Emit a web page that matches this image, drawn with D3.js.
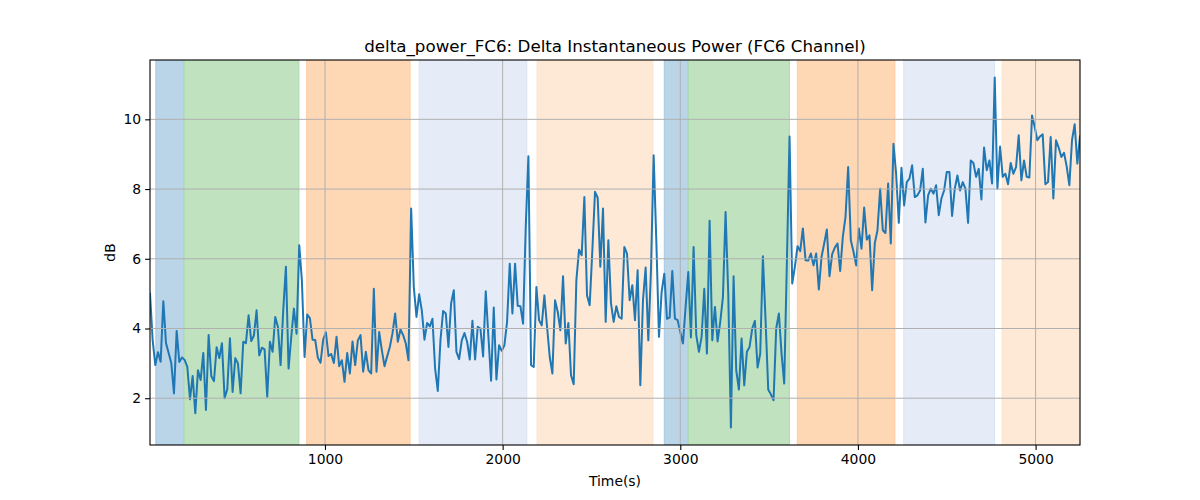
<!DOCTYPE html>
<html>
<head>
<meta charset="utf-8">
<script src="https://cdn.jsdelivr.net/npm/d3@7"></script>
<style>
  body { margin: 0; background: #fff; }
  svg { display: block; font-family: "DejaVu Sans", sans-serif; }
</style>
</head>
<body>
<svg id="chart" width="1200" height="500"></svg>
<script>
const titleText = "delta_power_FC6: Delta Instantaneous Power (FC6 Channel)";
const xLabel = "Time(s)";
const yLabel = "dB";
const timeStart = 15;
const timeStep = 15;
const xTicks = [1000, 2000, 3000, 4000, 5000];
const yTicks = [2, 4, 6, 8, 10];

const values = [
 5.0,3.66,2.95,3.32,3.05,4.78,3.58,3.3,3.0,2.14,
 3.93,3.04,3.17,3.1,2.9,1.97,2.64,1.57,2.8,2.52,
 3.3,1.66,3.81,2.63,2.49,3.46,3.15,3.58,2.0,2.26,
 3.72,2.18,3.15,3.0,2.14,
 3.62,3.58,4.38,3.64,3.8,4.52,3.23,3.45,3.4,2.04,
 3.62,3.33,4.33,4.05,2.95,4.52,5.77,2.85,3.75,4.57,
 3.85,6.39,5.38,3.18,4.4,4.3,3.68,3.67,3.16,3.02,
 3.68,3.89,3.21,3.27,3.01,3.76,2.92,
 3.09,2.47,3.3,2.71,3.63,2.95,3.66,3.81,2.76,3.33,
 2.8,2.71,5.14,2.76,3.9,3.38,2.92,3.2,3.47,3.86,
 4.43,3.62,3.97,3.81,3.57,3.09,7.44,5.19,4.33,4.98,
 4.52,3.68,4.16,4.06,4.28,2.85,2.21,3.66,4.5,4.43,
 3.47,4.72,5.1,3.33,3.12,3.66,3.87,3.62,3.11,4.22,
 3.11,4.05,4.0,3.2,5.07,3.76,2.5,4.6,2.54,3.52,
 3.36,3.52,4.19,5.86,4.43,5.86,4.65,4.64,4.14,6.9,
 8.94,2.95,2.9,5.19,4.24,4.09,4.95,4.05,3.19,2.71,
 4.81,4.48,3.95,5.5,3.57,4.16,2.66,2.4,5.38,6.26,
 6.1,7.77,4.95,4.67,6.24,7.92,7.75,5.77,7.44,4.19,
 6.53,4.72,4.19,4.64,4.33,4.28,6.34,6.15,4.81,5.24,
 4.24,5.67,2.37,4.81,5.75,3.66,5.67,8.97,6.53,3.76,
 5.05,5.57,4.28,4.31,5.65,4.28,4.24,3.9,3.57,4.62,
 5.62,3.74,6.34,3.81,3.33,3.76,5.14,3.28,7.09,3.66,
 4.62,3.63,4.19,4.9,7.34,5.0,1.16,5.5,2.8,2.25,
 3.71,2.37,3.33,3.47,4.0,4.22,2.88,3.28,6.07,4.24,
 2.25,2.11,1.94,4.0,4.43,3.28,2.42,5.9,9.51,5.29,
 5.77,6.36,6.22,6.87,5.96,5.95,6.15,5.81,6.15,5.12,
 6.05,6.44,6.84,5.5,6.13,6.32,6.44,5.65,6.63,7.2,
 8.63,6.53,6.2,5.81,6.87,6.29,7.47,6.55,6.67,5.1,
 6.45,6.82,8.01,6.82,6.74,8.16,6.44,9.3,8.44,7.03,
 8.61,7.53,8.2,8.3,8.68,7.77,7.82,7.96,8.58,7.04,
 7.82,8.01,7.87,8.11,7.25,7.73,7.96,8.49,8.49,7.23,
 8.01,8.39,7.96,8.2,8.01,7.03,8.82,8.75,8.35,8.58,
 7.7,9.19,8.54,8.82,8.16,11.2,8.01,9.22,8.35,8.44,
 8.14,8.75,8.44,8.63,9.54,8.25,8.82,8.35,8.33,10.11,
 9.78,9.4,9.51,9.57,8.14,8.2,9.49,7.73,9.4,9.19,
 8.92,9.04,8.65,8.11,9.4,9.86,8.73,9.51
];

// shaded intervals (seconds) and their kinds
const spanStarts = [48, 207, 897, 1530, 2194, 2910, 3045, 3659, 4258, 4812];
const spanEnds   = [207, 853, 1479, 2136, 2846, 3045, 3614, 4208, 4769, 5250];
const spanKinds  = ["blue", "green", "orange", "lightblue", "peach", "blue", "green", "orange", "lightblue", "peach"];

const spanFill = { blue: "#bad4e8", green: "#c0e2bf", orange: "#fed7b5", lightblue: "#e5ecf7", peach: "#fee9d6" };
const spanEdge = { blue: "#a9c9e2", green: "#acd9ab", orange: "#fdcba0", lightblue: "#dbe4f4", peach: "#fde2ca" };

const data = values.map((v, i) => ({ t: timeStart + i * timeStep, v }));

const svg = d3.select("#chart");
const m = { left: 150, right: 1080, top: 60, bottom: 445 };

const tExt = d3.extent(data, d => d.t);
const vExt = d3.extent(data, d => d.v);
const vPad = (vExt[1] - vExt[0]) * 0.05;

const x = d3.scaleLinear().domain(tExt).range([m.left, m.right]);
const y = d3.scaleLinear().domain([vExt[0] - vPad, vExt[1] + vPad]).range([m.bottom, m.top]);

svg.append("defs").append("clipPath").attr("id", "clip")
  .append("rect").attr("x", m.left).attr("y", m.top)
  .attr("width", m.right - m.left).attr("height", m.bottom - m.top);

const plot = svg.append("g").attr("clip-path", "url(#clip)");

// spans
const spans = spanStarts.map((s, i) => ({ s, e: spanEnds[i], k: spanKinds[i] }));
plot.selectAll("rect.span").data(spans).enter().append("rect")
  .attr("class", "span")
  .attr("x", d => x(d.s))
  .attr("width", d => x(d.e) - x(d.s))
  .attr("y", m.top)
  .attr("height", m.bottom - m.top)
  .attr("fill", d => spanFill[d.k])
  .attr("stroke", d => spanEdge[d.k])
  .attr("stroke-width", 1);

// grid
const grid = svg.append("g");
grid.selectAll("line.gx").data(xTicks).enter().append("line")
  .attr("x1", d => x(d)).attr("x2", d => x(d))
  .attr("y1", m.top).attr("y2", m.bottom)
  .attr("stroke", "#b0b0b0").attr("stroke-width", 1);
grid.selectAll("line.gy").data(yTicks).enter().append("line")
  .attr("y1", d => y(d)).attr("y2", d => y(d))
  .attr("x1", m.left).attr("x2", m.right)
  .attr("stroke", "#b0b0b0").attr("stroke-width", 1);

// line
plot.append("path").datum(data)
  .attr("fill", "none")
  .attr("stroke", "#1f77b4")
  .attr("stroke-width", 2)
  .attr("stroke-linejoin", "round")
  .attr("stroke-linecap", "square")
  .attr("d", d3.line().x(d => x(d.t)).y(d => y(d.v)));

// axes
const xAxis = svg.append("g").attr("transform", `translate(0,${m.bottom})`)
  .call(d3.axisBottom(x).tickValues(xTicks).tickFormat(d3.format("d")).tickSizeOuter(0).tickSize(4.9).tickPadding(4));
const yAxis = svg.append("g").attr("transform", `translate(${m.left},0)`)
  .call(d3.axisLeft(y).tickValues(yTicks).tickFormat(d3.format("d")).tickSizeOuter(0).tickSize(4.9).tickPadding(4));
[xAxis, yAxis].forEach(g => {
  g.select(".domain").remove();
  g.selectAll("text").attr("font-size", "13.9px").attr("fill", "#000").attr("font-family", "DejaVu Sans, sans-serif");
  g.selectAll("line").attr("stroke", "#000").attr("stroke-width", 1.1);
});

// frame
svg.append("rect")
  .attr("x", m.left).attr("y", m.top)
  .attr("width", m.right - m.left).attr("height", m.bottom - m.top)
  .attr("fill", "none").attr("stroke", "#000").attr("stroke-width", 1.1);

// labels
svg.append("text").attr("x", (m.left + m.right) / 2).attr("y", 52)
  .attr("text-anchor", "middle").attr("font-size", "16.7px").attr("fill", "#000")
  .text(titleText);
svg.append("text").attr("x", (m.left + m.right) / 2).attr("y", 486)
  .attr("text-anchor", "middle").attr("font-size", "13.9px").attr("fill", "#000")
  .text(xLabel);
svg.append("text").attr("transform", `translate(115,${(m.top + m.bottom) / 2}) rotate(-90)`)
  .attr("text-anchor", "middle").attr("font-size", "13.9px").attr("fill", "#000")
  .text(yLabel);
</script>
</body>
</html>
